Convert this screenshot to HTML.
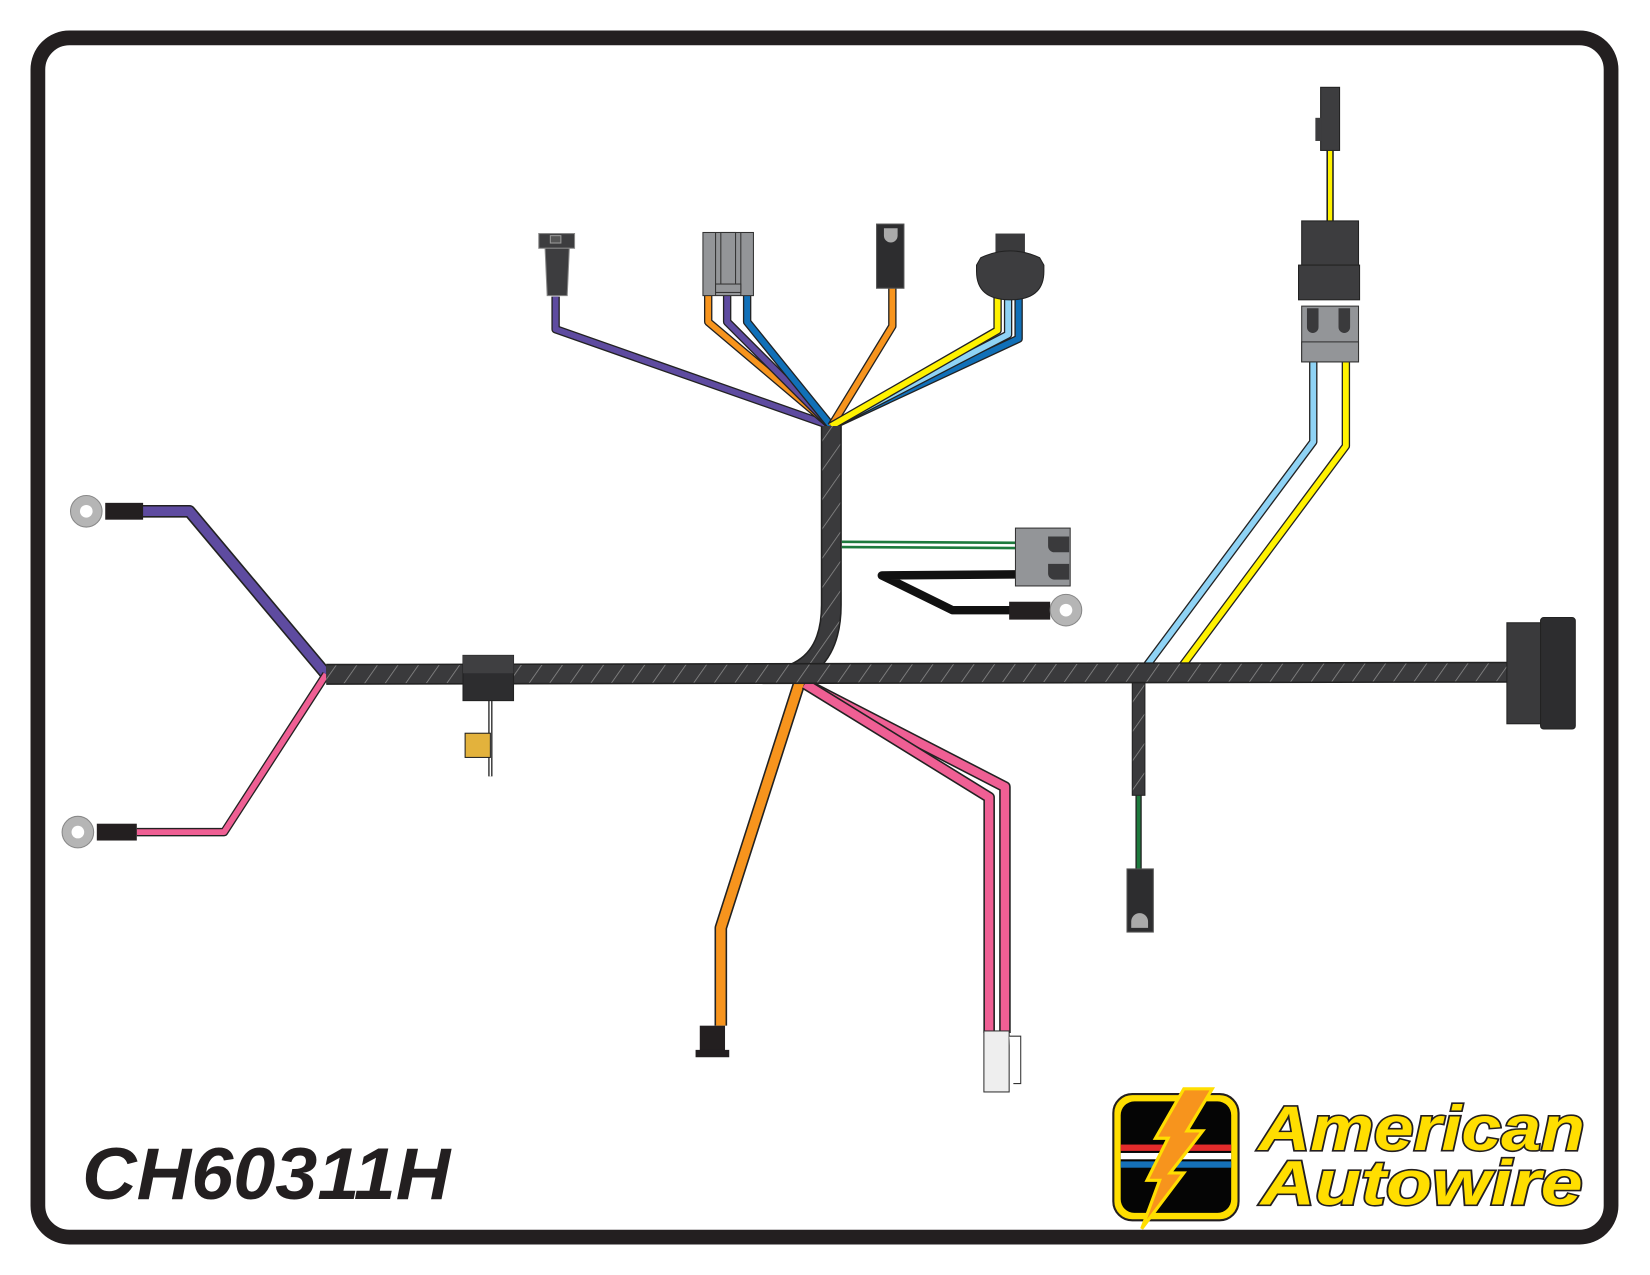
<!DOCTYPE html>
<html><head><meta charset="utf-8"><style>
html,body{margin:0;padding:0;background:#fff;width:1650px;height:1275px;overflow:hidden}
svg{display:block}
</style></head><body>
<svg width="1650" height="1275" viewBox="0 0 1568 1212" preserveAspectRatio="none" xmlns="http://www.w3.org/2000/svg">
<defs>
<pattern id="hatch" width="16" height="16" patternUnits="userSpaceOnUse" patternTransform="rotate(35)">
<rect width="16" height="16" fill="#3a3a3c"/>
<line x1="0" y1="0" x2="0" y2="16" stroke="#8a8a8a" stroke-width="1.5"/>
</pattern>
</defs>
<rect x="36" y="36" width="1495" height="1140" rx="30" fill="none" stroke="#231f20" stroke-width="14"/>

<polyline points="310,641 180,486 135,486" fill="none" stroke="#222" stroke-width="12" stroke-linejoin="round"/>
<polyline points="310,641 180,486 135,486" fill="none" stroke="#5e4ba0" stroke-width="9" stroke-linejoin="round"/>
<polyline points="310,641 213,791 130,791" fill="none" stroke="#222" stroke-width="8" stroke-linejoin="round"/>
<polyline points="310,641 213,791 130,791" fill="none" stroke="#ef5f94" stroke-width="5.5" stroke-linejoin="round"/>
<rect x="100" y="478" width="36" height="16" fill="#231f20"/>
<circle cx="82" cy="486" r="15" fill="#b5b5b5" stroke="#888"/><circle cx="82" cy="486" r="6" fill="#fff"/>
<rect x="92" y="783" width="38" height="16" fill="#231f20"/>
<circle cx="74" cy="791" r="15" fill="#b5b5b5" stroke="#888"/><circle cx="74" cy="791" r="6" fill="#fff"/>

<g fill="none" stroke-linejoin="round">
<polyline points="528,282 528,313 790,405" stroke="#222" stroke-width="8"/>
<polyline points="528,282 528,313 790,405" stroke="#5e4ba0" stroke-width="5.5"/>
<polyline points="673,280 673,306 790,405" stroke="#222" stroke-width="8"/>
<polyline points="673,280 673,306 790,405" stroke="#f7941d" stroke-width="5.5"/>
<polyline points="691,280 691,306 790,405" stroke="#222" stroke-width="8"/>
<polyline points="691,280 691,306 790,405" stroke="#5e4ba0" stroke-width="5.5"/>
<polyline points="710,280 710,306 790,405" stroke="#222" stroke-width="8"/>
<polyline points="710,280 710,306 790,405" stroke="#1170b8" stroke-width="5.5"/>
<polyline points="848,272 848,310 790,405" stroke="#222" stroke-width="8"/>
<polyline points="848,272 848,310 790,405" stroke="#f7941d" stroke-width="5.5"/>
<polyline points="968,280 968,322 790,405" stroke="#222" stroke-width="8"/>
<polyline points="968,280 968,322 790,405" stroke="#1170b8" stroke-width="5.5"/>
<polyline points="958,280 958,318 790,405" stroke="#222" stroke-width="8"/>
<polyline points="958,280 958,318 790,405" stroke="#8fd3f5" stroke-width="5.5"/>
<polyline points="948,280 948,314 790,405" stroke="#222" stroke-width="8"/>
<polyline points="948,280 948,314 790,405" stroke="#fff200" stroke-width="5.5"/>
</g>
<rect x="512" y="222" width="34" height="14" fill="#3d3d3f" stroke="#888"/>
<rect x="523" y="224" width="10" height="7" fill="#555" stroke="#999"/>
<path d="M518,236 L541,236 L539,281 L520,281Z" fill="#3d3d3f" stroke="#888"/>
<rect x="668" y="221" width="48" height="60" fill="#939598" stroke="#333"/>
<line x1="680" y1="221" x2="680" y2="281" stroke="#333"/><line x1="704" y1="221" x2="704" y2="281" stroke="#333"/>
<rect x="685" y="221" width="14" height="54" fill="#939598" stroke="#333"/>
<rect x="680" y="270" width="24" height="8" fill="#939598" stroke="#333"/>
<rect x="833" y="213" width="26" height="61" fill="#2d2d2f" stroke="#555"/>
<path d="M840,217 h13 v7 a6,6 0 0 1 -13,0z" fill="#aaa"/>
<rect x="946" y="222" width="28" height="24" fill="#3a3a3c"/>
<path d="M932,245 Q960,232 988,245 L992,252 L992,258 Q992,285 960,285 Q928,285 928,258 L928,252Z" fill="#3d3d3f" stroke="#222"/>

<path d="M790,405 L790,575 Q790,625 755,640" fill="none" stroke="#222" stroke-width="20"/>
<path d="M790,405 L790,575 Q790,625 755,640" fill="none" stroke="url(#hatch)" stroke-width="17"/>

<line x1="800" y1="515" x2="966" y2="516" stroke="#1d7a3d" stroke-width="2.5"/>
<line x1="800" y1="520" x2="966" y2="521" stroke="#1d7a3d" stroke-width="2.5"/>
<polyline points="966,546 838,547 905,580 962,580" fill="none" stroke="#111" stroke-width="8" stroke-linejoin="round"/>
<rect x="959" y="572" width="39" height="17" fill="#231f20"/>
<circle cx="1013" cy="580" r="15" fill="#b5b5b5" stroke="#888"/><circle cx="1013" cy="580" r="6" fill="#fff"/>
<rect x="965" y="502" width="52" height="55" fill="#939598" stroke="#333"/>
<path d="M996,510 h20 v15 h-14 a6,6 0 0 1 -6,-6z" fill="#3a3a3c"/>
<path d="M996,536 h20 v15 h-14 a6,6 0 0 1 -6,-6z" fill="#3a3a3c"/>

<polyline points="1248,344 1248,420 1088,635" fill="none" stroke="#222" stroke-width="8" stroke-linejoin="round"/>
<polyline points="1248,344 1248,420 1088,635" fill="none" stroke="#8fd3f5" stroke-width="5.5" stroke-linejoin="round"/>
<polyline points="1279,344 1279,424 1122,635" fill="none" stroke="#222" stroke-width="8" stroke-linejoin="round"/>
<polyline points="1279,344 1279,424 1122,635" fill="none" stroke="#fff200" stroke-width="5.5" stroke-linejoin="round"/>
<line x1="1264" y1="143" x2="1264" y2="212" stroke="#222" stroke-width="7"/>
<line x1="1264" y1="143" x2="1264" y2="212" stroke="#fff200" stroke-width="4"/>
<rect x="1255" y="83" width="18" height="60" fill="#3d3d3f" stroke="#222"/>
<rect x="1250" y="112" width="6" height="22" fill="#3d3d3f"/>
<rect x="1237" y="210" width="54" height="42" fill="#3d3d3f" stroke="#222"/>
<rect x="1234" y="252" width="58" height="33" fill="#3d3d3f" stroke="#222"/>
<rect x="1237" y="291" width="54" height="53" fill="#939598" stroke="#333"/>
<path d="M1242,293 h11 v18 a5,5 0 0 1 -11,0z M1272,293 h11 v18 a5,5 0 0 1 -11,0z" fill="#3a3a3c"/>
<rect x="1237" y="325" width="54" height="19" fill="#939598" stroke="#333"/>

<polyline points="760,648 685,882 685,975" fill="none" stroke="#222" stroke-width="12" stroke-linejoin="round"/>
<polyline points="760,648 685,882 685,975" fill="none" stroke="#f7941d" stroke-width="9" stroke-linejoin="round"/>
<polyline points="765,650 955,748 955,982" fill="none" stroke="#222" stroke-width="11" stroke-linejoin="round"/>
<polyline points="765,650 955,748 955,982" fill="none" stroke="#ef5f94" stroke-width="8" stroke-linejoin="round"/>
<polyline points="765,650 940,758 940,982" fill="none" stroke="#222" stroke-width="11" stroke-linejoin="round"/>
<polyline points="765,650 940,758 940,982" fill="none" stroke="#ef5f94" stroke-width="8" stroke-linejoin="round"/>
<rect x="665" y="975" width="24" height="25" fill="#231f20"/>
<rect x="661" y="998" width="32" height="7" fill="#231f20"/>
<rect x="935" y="980" width="24" height="58" fill="#eee" stroke="#333"/>
<path d="M959,985 L970,985 L970,1030 L963,1030" fill="#fff" stroke="#333"/>

<line x1="1082" y1="755" x2="1082" y2="828" stroke="#222" stroke-width="6"/>
<line x1="1082" y1="755" x2="1082" y2="828" stroke="#1d7a3d" stroke-width="3.5"/>
<rect x="1076" y="648" width="12" height="108" fill="url(#hatch)" stroke="#222"/>
<rect x="1071" y="826" width="25" height="60" fill="#2d2d2f" stroke="#555"/>
<path d="M1075,882 v-6 a8,8 0 0 1 16,0 v6z" fill="#aaa"/>

<path d="M310,641 L1432,639" stroke="#222" stroke-width="20"/>
<path d="M310,641 L1432,639" stroke="url(#hatch)" stroke-width="17"/>
<line x1="466" y1="666" x2="466" y2="738" stroke="#222" stroke-width="4"/>
<line x1="466" y1="666" x2="466" y2="738" stroke="#fff" stroke-width="1.5"/>
<rect x="442" y="697" width="24" height="23" fill="#e3b23c" stroke="#222"/>
<rect x="440" y="623" width="48" height="43" fill="#2d2d2f" stroke="#222"/>
<rect x="440" y="623" width="48" height="17" fill="#3f3f41"/>
<rect x="1432" y="592" width="34" height="96" fill="#3a3a3c" stroke="#222"/>
<rect x="1464" y="587" width="33" height="106" rx="3" fill="#2d2d2f" stroke="#222"/>

<text x="78" y="1140" font-family="Liberation Sans, sans-serif" font-size="70" font-weight="bold" font-style="italic" fill="#231f20" textLength="350" lengthAdjust="spacingAndGlyphs">CH60311H</text>

<rect x="1058" y="1040" width="119" height="120" rx="18" fill="#ffde00" stroke="#231f20" stroke-width="2"/>
<rect x="1065" y="1047" width="105" height="106" rx="13" fill="#050505"/>
<rect x="1065" y="1088" width="105" height="6" fill="#e32b2b"/>
<rect x="1065" y="1096" width="105" height="6" fill="#fff"/>
<rect x="1065" y="1104" width="105" height="6" fill="#1570b8"/>
<path d="M1125,1035 L1152,1035 L1128,1075 L1143,1075 L1112,1115 L1125,1115 L1085,1168 L1102,1122 L1090,1122 L1110,1082 L1098,1082Z" fill="#f7941d" stroke="#ffde00" stroke-width="3"/>
<g font-family="Liberation Sans, sans-serif" font-weight="bold" font-style="italic" font-size="60" fill="#ffde00" stroke="#231f20" stroke-width="3" paint-order="stroke">
<text x="1196" y="1093" textLength="310" lengthAdjust="spacingAndGlyphs">American</text>
<text x="1198" y="1145" textLength="306" lengthAdjust="spacingAndGlyphs">Autowire</text>
</g>
</svg>
</body></html>
